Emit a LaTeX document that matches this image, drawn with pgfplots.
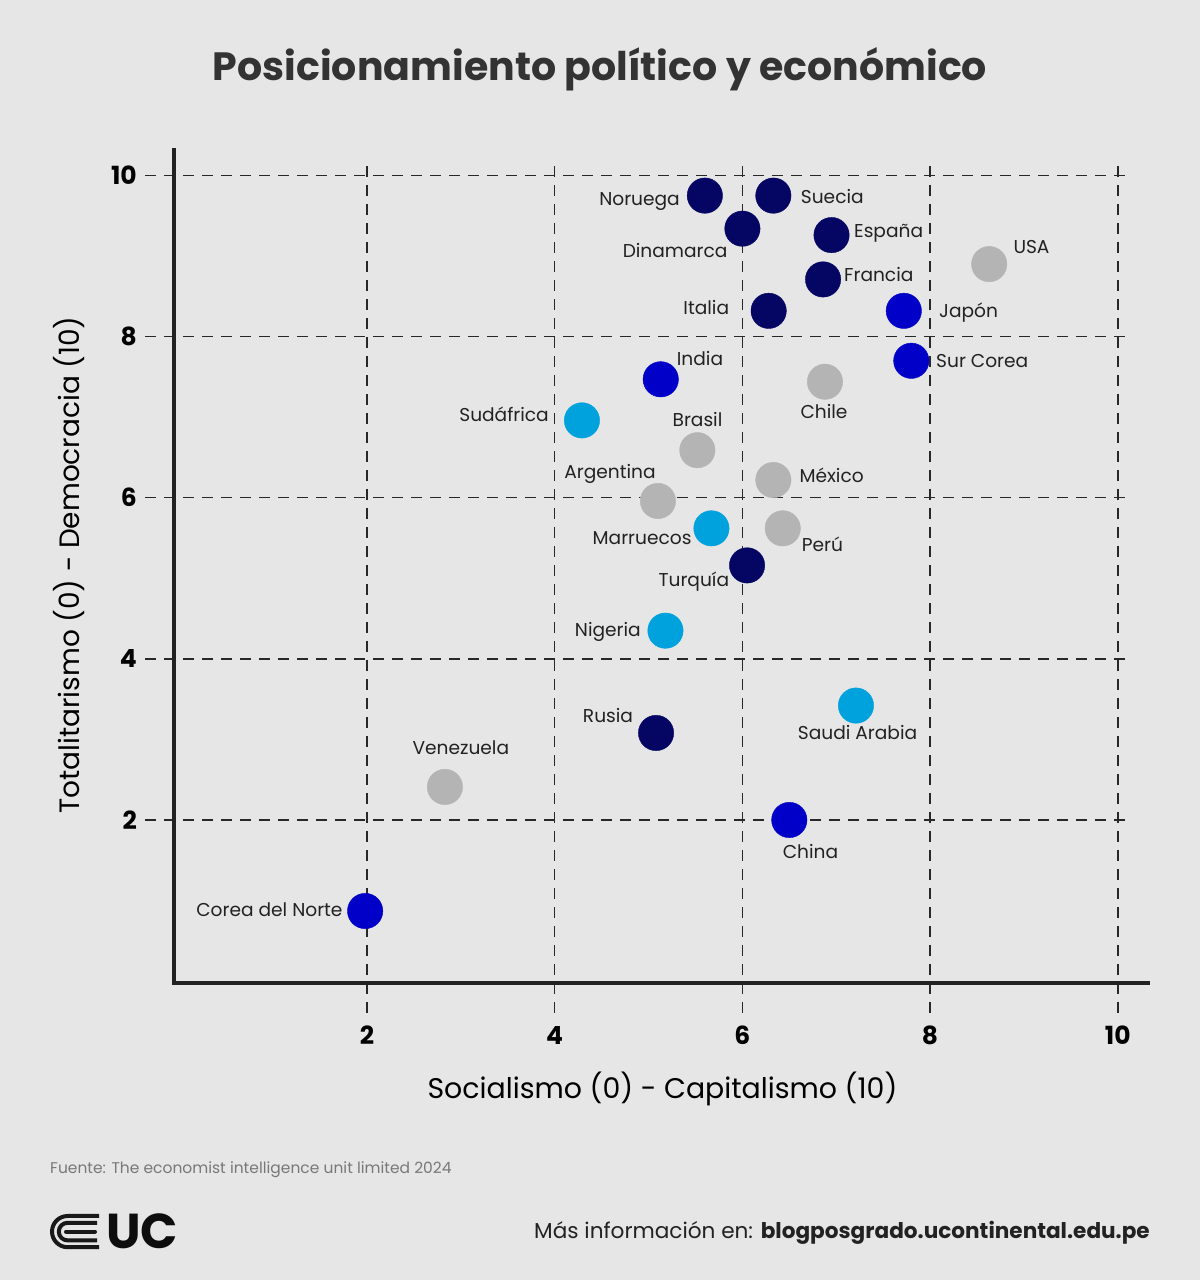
\documentclass[border=0pt]{standalone}
\usepackage{fontspec}
\setmainfont{Poppins}
\usepackage{pgfplots}
\pgfplotsset{compat=1.18}
\definecolor{bg}{RGB}{230,230,230}
\definecolor{navy}{RGB}{5,5,100}
\definecolor{ublue}{RGB}{0,0,200}
\definecolor{lblue}{RGB}{0,162,222}
\definecolor{ugray}{RGB}{180,180,180}
\definecolor{txt}{RGB}{34,34,34}
\definecolor{titlec}{RGB}{51,51,51}
\definecolor{gridc}{RGB}{40,40,40}
\definecolor{foot}{RGB}{120,120,120}
\newcommand\fs[1]{\fontsize{#1}{#1}\selectfont}
\begin{document}
\begin{tikzpicture}[x=1pt,y=1pt,
  lab/.style={font=\fs{18.6}, text=txt, inner sep=0pt}]
\fill[bg] (0,0) rectangle (1200,1280);
\begin{axis}[at={(145pt,267pt)}, anchor=south west,
  x=93.84pt, y=80.56pt,
  xmin=-0.366, xmax=10.14, ymin=-0.396, ymax=10.184,
  clip=false, axis line style={draw=none},
  major tick length=0pt,
  xtick={2,4,6,8,10}, ytick={2,4,6,8,10},
  xticklabels={2,4,6,8,10}, yticklabels={2,4,6,8,10},
  grid=major,
  major grid style={gridc, line width=1.5pt, dash pattern=on 11pt off 8pt},
  tick label style={font=\fs{25}\bfseries, text=black, inner sep=0pt},
  xticklabel style={anchor=north, yshift=-13pt},
  yticklabel style={anchor=east, xshift=-8pt},
  every axis plot/.append style={only marks, mark=*, mark size=17.7pt}]
\draw[txt, line width=4pt] (axis cs:-0.056,10.34) -- (axis cs:-0.056,-0.027) -- (axis cs:10.344,-0.027);
% Navy
\addplot[navy, mark options={draw=none, fill=navy}] coordinates {
 (5.60,9.75) (6.33,9.75) (6.00,9.34) (6.95,9.26) (6.86,8.71) (6.28,8.32) (6.05,5.16) (5.08,3.08)};
% Blue
\addplot[ublue, mark options={draw=none, fill=ublue}] coordinates {
 (7.72,8.32) (7.80,7.70) (5.13,7.47) (6.50,2.00) (1.98,0.87)};
% Light blue
\addplot[lblue, mark options={draw=none, fill=lblue}] coordinates {
 (4.29,6.96) (5.67,5.62) (5.18,4.35) (7.21,3.42)};
% Gray
\addplot[ugray, mark options={draw=none, fill=ugray}] coordinates {
 (8.63,8.90) (6.88,7.44) (5.52,6.59) (6.33,6.22) (5.10,5.96) (6.43,5.62) (2.83,2.41)};
\end{axis}
% point labels
\node[lab, anchor=base east] at (680,1074) {Noruega};
\node[lab, anchor=base west] at (800.7,1076.7) {Suecia};
\node[lab, anchor=base east] at (727.7,1022.3) {Dinamarca};
\node[lab, anchor=base west] at (854,1042) {España};
\node[lab, anchor=base west] at (844,998.3) {Francia};
\node[lab, anchor=base east] at (729.3,965.7) {Italia};
\node[lab, anchor=base west] at (1013.3,1026.7) {USA};
\node[lab, anchor=base west] at (939,962.3) {Japón};
\node[lab, anchor=base west] at (936,912.3) {Sur Corea};
\node[lab, anchor=base] at (700,914) {India};
\node[lab, anchor=base] at (824,861.7) {Chile};
\node[lab, anchor=base east] at (549,858) {Sudáfrica};
\node[lab, anchor=base] at (697.5,853.3) {Brasil};
\node[lab, anchor=base] at (610,801.7) {Argentina};
\node[lab, anchor=base west] at (799.3,797.3) {México};
\node[lab, anchor=base east] at (691.7,735) {Marruecos};
\node[lab, anchor=base west] at (801.7,728.3) {Perú};
\node[lab, anchor=base east] at (729.3,693.3) {Turquía};
\node[lab, anchor=base east] at (641,643) {Nigeria};
\node[lab, anchor=base] at (608,557) {Rusia};
\node[lab, anchor=base] at (857.5,540) {Saudi Arabia};
\node[lab, anchor=base west] at (412.3,525) {Venezuela};
\node[lab, anchor=base] at (810.5,421) {China};
\node[lab, anchor=base east] at (342.7,363.3) {Corea del Norte};
% title and axis titles
\node[anchor=base, font=\fs{39.5}\bfseries, text=titlec, inner sep=0pt] at (600,1199.3) {Posicionamiento político y económico};
\node[anchor=base, font=\fs{28.4}, text=black, inner sep=0pt] at (662.5,181) {Socialismo (0) - Capitalismo (10)};
\node[anchor=base, rotate=90, font=\fs{28}, text=black, inner sep=0pt] at (79.3,715) {Totalitarismo (0) - Democracia (10)};
% footer
\node[anchor=base west, font=\fs{15.5}, text=foot, inner sep=0pt] at (50,106.7) {Fuente: The economist intelligence unit limited 2024};
\node[anchor=base east, font=\fs{21.6}, text=txt, inner sep=0pt] at (1150,41.7) {Más información en: \textbf{blogposgrado.ucontinental.edu.pe}};
% logo
\begin{scope}[line width=4pt, draw=black!90]
\draw (99,64) -- (67.6,64) arc[start angle=90, end angle=270, radius=15.6] -- (99,32.8);
\draw (97,57.2) -- (67.6,57.2) arc[start angle=90, end angle=270, radius=8.8] -- (97,39.6);
\draw[line cap=round] (66,48.4) -- (95,48.4);
\end{scope}
\node[anchor=base west, font=\fs{49}\bfseries, text=black!95, inner sep=0pt] at (106,31) {UC};
\end{tikzpicture}
\end{document}
